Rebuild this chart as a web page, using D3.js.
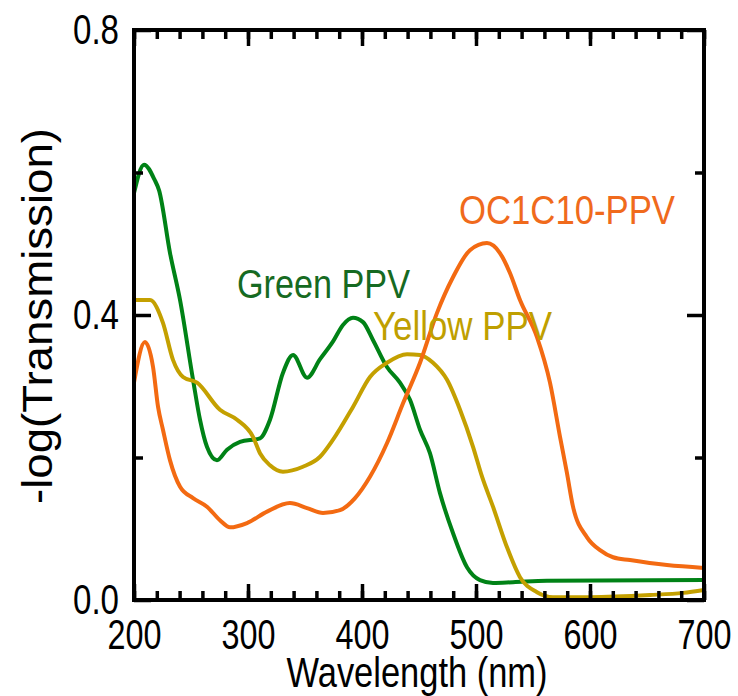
<!DOCTYPE html>
<html>
<head>
<meta charset="utf-8">
<script src="https://cdn.jsdelivr.net/npm/d3@7"></script>
<style>
  html, body { margin: 0; padding: 0; background: #fff; }
  svg { display: block; font-family: "Liberation Sans", Arial, sans-serif; }
</style>
</head>
<body>
<svg id="chart" width="738" height="696"></svg>
<script>
// wavelength (nm) / -log(T)
const greenWl = [200, 208.8, 218, 222, 231.6, 240.4, 251.8, 257.9, 264, 272.8, 281.6, 293, 310.5, 319.3, 330.7, 339.5, 351.8, 363.2, 374.6, 383.3, 392.1, 400.9, 409.6, 421.9, 433.3, 442.1, 450.9, 459.6, 468.4, 479.8, 492.1, 503.5, 514.9, 532.5, 562.3, 700];
const greenVal = [0.571, 0.611, 0.590, 0.575, 0.487, 0.421, 0.309, 0.253, 0.215, 0.196, 0.211, 0.222, 0.227, 0.253, 0.319, 0.344, 0.312, 0.338, 0.363, 0.386, 0.396, 0.390, 0.365, 0.327, 0.305, 0.281, 0.239, 0.206, 0.150, 0.094, 0.046, 0.028, 0.024, 0.025, 0.027, 0.028];

const yellowWl = [200, 214, 225.4, 234.2, 243, 255.3, 275.4, 290.4, 304.4, 310.5, 319.3, 330.7, 348.2, 363.2, 374.6, 392.1, 407, 421.9, 439.5, 450.9, 462.3, 474.6, 486, 497.4, 505.3, 514.9, 527.2, 538.6, 553.5, 567.5, 600, 652.6, 681.6, 700];
const yellowVal = [0.421, 0.421, 0.389, 0.337, 0.313, 0.305, 0.267, 0.253, 0.229, 0.206, 0.189, 0.180, 0.187, 0.201, 0.225, 0.271, 0.313, 0.333, 0.345, 0.344, 0.333, 0.309, 0.267, 0.215, 0.173, 0.131, 0.074, 0.032, 0.011, 0.004, 0.004, 0.007, 0.010, 0.014];

const orangeWl = [200, 209.6, 216.7, 221.1, 225.4, 231.6, 240.4, 251.8, 264, 275.4, 284.2, 299.1, 316.7, 336.8, 351.8, 365.8, 380.7, 393.9, 407, 421.9, 436, 450.9, 465.8, 479.8, 494.7, 509.6, 521, 529.8, 538.6, 553.5, 564.9, 573.7, 579.8, 585.1, 597.4, 608.8, 620.2, 635.1, 667.5, 700];
const orangeVal = [0.305, 0.362, 0.327, 0.271, 0.239, 0.196, 0.159, 0.143, 0.131, 0.112, 0.102, 0.108, 0.124, 0.136, 0.129, 0.122, 0.126, 0.143, 0.173, 0.220, 0.276, 0.333, 0.403, 0.453, 0.491, 0.501, 0.487, 0.459, 0.421, 0.369, 0.305, 0.229, 0.178, 0.131, 0.088, 0.070, 0.060, 0.056, 0.049, 0.045];

const xTicks = [200, 300, 400, 500, 600, 700];
const yTicks = [0.0, 0.4, 0.8];
const xMinor = d3.range(200, 701, 20);
const yMinor = [0.2, 0.6];

const series = [
  { name: 'Green PPV', wl: greenWl, val: greenVal, color: '#008216', labelColor: '#166a22', lx: 237, ly: 298, lw: 173 },
  { name: 'Yellow PPV', wl: yellowWl, val: yellowVal, color: '#c4a000', labelColor: '#bf9f00', lx: 373, ly: 340, lw: 179 },
  { name: 'OC1C10-PPV', wl: orangeWl, val: orangeVal, color: '#f36a12', labelColor: '#f06a1c', lx: 459, ly: 224, lw: 216 }
];

const svg = d3.select('#chart');
const margin = { top: 30, right: 34, bottom: 96, left: 134 };
const width = 738, height = 696;

const x = d3.scaleLinear().domain([200, 700]).range([margin.left, width - margin.right]);
const y = d3.scaleLinear().domain([0, 0.8]).range([height - margin.bottom, margin.top]);

svg.append('rect').attr('width', width).attr('height', height).attr('fill', '#fff');

// curves
const line = d3.line()
  .x(d => x(d[0]))
  .y(d => y(d[1]))
  .curve(d3.curveMonotoneX);

series.forEach(s => {
  svg.append('path')
    .datum(s.wl.map((w, i) => [w, s.val[i]]))
    .attr('fill', 'none')
    .attr('stroke', s.color)
    .attr('stroke-width', 4)
    .attr('stroke-linejoin', 'round')
    .attr('d', line);
});

// axes, ticks inward on all four sides
function styleAxis(g) {
  g.select('.domain').remove();
  g.selectAll('line').attr('stroke', '#000').attr('stroke-width', 3.5);
}

const yBot = y(0), yTop = y(0.8), xLeft = x(200), xRight = x(700);

svg.append('g').attr('transform', `translate(0,${yBot})`)
  .call(d3.axisBottom(x).tickValues(xMinor).tickSize(-9).tickFormat(''))
  .call(styleAxis);
svg.append('g').attr('transform', `translate(0,${yTop})`)
  .call(d3.axisTop(x).tickValues(xMinor).tickSize(-9).tickFormat(''))
  .call(styleAxis);
svg.append('g').attr('transform', `translate(0,${yTop})`)
  .call(d3.axisTop(x).tickValues(xTicks).tickSize(-16).tickFormat(''))
  .call(styleAxis);
svg.append('g').attr('transform', `translate(${xLeft},0)`)
  .call(d3.axisLeft(y).tickValues(yMinor).tickSize(-9).tickFormat(''))
  .call(styleAxis);
svg.append('g').attr('transform', `translate(${xRight},0)`)
  .call(d3.axisRight(y).tickValues(yMinor).tickSize(-9).tickFormat(''))
  .call(styleAxis);
svg.append('g').attr('transform', `translate(${xRight},0)`)
  .call(d3.axisRight(y).tickValues(yTicks).tickSize(-17).tickFormat(''))
  .call(styleAxis);

const xAxis = svg.append('g').attr('transform', `translate(0,${yBot})`)
  .call(d3.axisBottom(x).tickValues(xTicks).tickSize(-16).tickPadding(19).tickFormat(d3.format('d')))
  .call(styleAxis);
xAxis.selectAll('text')
  .attr('fill', '#000')
  .style('font-size', '42px')
  .attr('textLength', 54)
  .attr('lengthAdjust', 'spacingAndGlyphs');

const yAxis = svg.append('g').attr('transform', `translate(${xLeft},0)`)
  .call(d3.axisLeft(y).tickValues(yTicks).tickSize(-17).tickPadding(15).tickFormat(d3.format('.1f')))
  .call(styleAxis);
yAxis.selectAll('text')
  .attr('fill', '#000')
  .style('font-size', '42px')
  .attr('textLength', 46)
  .attr('lengthAdjust', 'spacingAndGlyphs');

// frame
svg.append('rect')
  .attr('x', xLeft).attr('y', yTop)
  .attr('width', xRight - xLeft).attr('height', yBot - yTop)
  .attr('fill', 'none').attr('stroke', '#000').attr('stroke-width', 4);

// axis titles
svg.append('text')
  .attr('x', 417).attr('y', 687)
  .attr('text-anchor', 'middle')
  .style('font-size', '42px')
  .attr('textLength', 261).attr('lengthAdjust', 'spacingAndGlyphs')
  .text('Wavelength (nm)');

svg.append('text')
  .attr('transform', 'translate(52,316) rotate(-90)')
  .attr('text-anchor', 'middle')
  .style('font-size', '42px')
  .attr('textLength', 376).attr('lengthAdjust', 'spacingAndGlyphs')
  .text('-log(Transmission)');

// series labels
series.forEach(s => {
  svg.append('text')
    .attr('x', s.lx).attr('y', s.ly)
    .attr('fill', s.labelColor)
    .style('font-size', '41px')
    .attr('textLength', s.lw).attr('lengthAdjust', 'spacingAndGlyphs')
    .text(s.name);
});
</script>
</body>
</html>
